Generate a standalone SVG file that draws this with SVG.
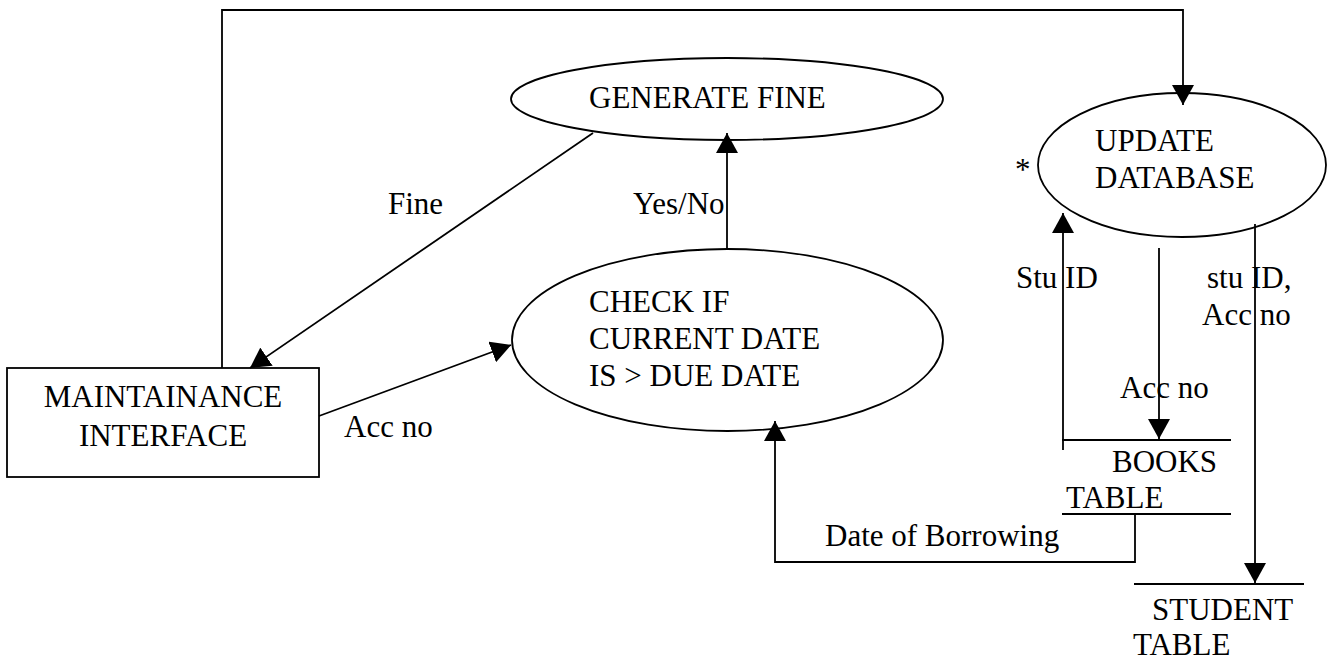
<svg xmlns="http://www.w3.org/2000/svg" width="1327" height="665" viewBox="0 0 1327 665">
  <style>
    .txt { font-family: 'Liberation Serif', 'DejaVu Serif', serif; font-size: 31px; fill: #000; }
    .shape { fill: #fff; stroke: #000; stroke-width: 1.8; }
    .flow { fill: none; stroke: #000; stroke-width: 1.8; }
    .store { fill: none; stroke: #000; stroke-width: 1.8; }
  </style>
  <defs>
    <marker id="arrow" markerUnits="userSpaceOnUse" markerWidth="22" markerHeight="22" refX="20" refY="11" orient="auto">
      <path d="M0,0 L20,11 L0,22 z" fill="#000"/>
    </marker>
  </defs>

  <g class="txt" font-family="'Liberation Serif', 'DejaVu Serif', serif">
  <!-- processes and external entity -->
  <g id="generate-fine">
    <ellipse class="shape" cx="727" cy="99" rx="216" ry="41"/>
    <text x="589" y="108">GENERATE FINE</text>
  </g>

  <g id="check-date">
    <ellipse class="shape" cx="727.5" cy="340" rx="215.5" ry="91"/>
    <text x="589" y="312">CHECK IF</text>
    <text x="589" y="349">CURRENT DATE</text>
    <text x="589" y="386">IS &gt; DUE DATE</text>
  </g>

  <g id="update-database">
    <ellipse class="shape" cx="1182" cy="165" rx="144" ry="72"/>
    <text x="1095" y="151">UPDATE</text>
    <text x="1095" y="188">DATABASE</text>
    <text x="1015" y="180">*</text>
  </g>

  <g id="maintainance-interface">
    <rect class="shape" x="7" y="368" width="312" height="109"/>
    <text x="163" y="407" text-anchor="middle">MAINTAINANCE</text>
    <text x="163" y="446" text-anchor="middle">INTERFACE</text>
  </g>

  <!-- data stores -->
  <g id="books-table">
    <line class="store" x1="1062" y1="440" x2="1231" y2="440"/>
    <line class="store" x1="1062" y1="514" x2="1231" y2="514"/>
    <text x="1112" y="472">BOOKS</text>
    <text x="1066" y="508">TABLE</text>
  </g>

  <g id="student-table">
    <line class="store" x1="1134" y1="584" x2="1304" y2="584"/>
    <text x="1152" y="620">STUDENT</text>
    <text x="1133" y="655">TABLE</text>
  </g>

  <!-- data flows -->
  <g id="connectors">
    <path class="flow" d="M222,368 V10 H1183 V105" marker-end="url(#arrow)"/>
    <path class="flow" d="M593,133 L250,368" marker-end="url(#arrow)"/>
    <path class="flow" d="M727,249 V133" marker-end="url(#arrow)"/>
    <path class="flow" d="M319,416 L511,345" marker-end="url(#arrow)"/>
    <path class="flow" d="M1063,450 V213" marker-end="url(#arrow)"/>
    <path class="flow" d="M1159,248 V439" marker-end="url(#arrow)"/>
    <path class="flow" d="M1255,224 V583" marker-end="url(#arrow)"/>
    <path class="flow" d="M1135,514 V562 H775 V421" marker-end="url(#arrow)"/>
  </g>

  <!-- flow labels -->
  <g id="labels">
    <text x="388" y="214">Fine</text>
    <text x="633" y="214">Yes/No</text>
    <text x="344" y="437">Acc no</text>
    <text x="1016" y="288">Stu ID</text>
    <text x="1207" y="288">stu ID,</text>
    <text x="1202" y="325">Acc no</text>
    <text x="1120" y="398">Acc no</text>
    <text x="825" y="546">Date of Borrowing</text>
  </g>
  </g>
</svg>
